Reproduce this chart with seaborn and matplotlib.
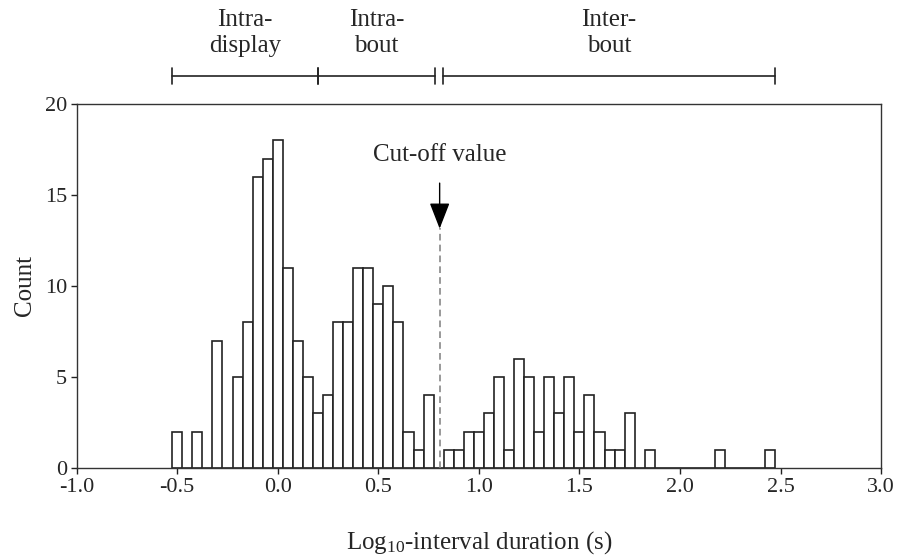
import numpy as np
import matplotlib
matplotlib.use("Agg")
import matplotlib.pyplot as plt
import seaborn as sns

# bin centres (log10 s) and counts per bin, bin width 0.05
bin_centers = np.round(np.arange(-0.5, 2.451, 0.05), 2)
counts = [2, 0, 2, 0, 7, 0, 5, 8, 16, 17,
          18, 11, 7, 5, 3, 4, 8, 8, 11, 11,
          9, 10, 8, 2, 1, 4, 0, 1, 1, 2,
          2, 3, 5, 1, 6, 5, 2, 5, 3, 5,
          2, 4, 2, 1, 1, 3, 0, 1, 0, 0,
          0, 0, 0, 0, 1, 0, 0, 0, 0, 1]

cutoff = 0.805
bout_labels = ["Intra-\ndisplay", "Intra-\nbout", "Inter-\nbout"]
bout_ranges = [(-0.525, 0.2), (0.2, 0.78), (0.82, 2.475)]
x_ticks = [-1.0, -0.5, 0.0, 0.5, 1.0, 1.5, 2.0, 2.5, 3.0]
y_ticks = [0, 5, 10, 15, 20]

sns.set_style("ticks")
plt.rcParams["font.family"] = ["Liberation Serif", "DejaVu Serif"]
plt.rcParams["mathtext.fontset"] = "custom"
plt.rcParams["mathtext.rm"] = "Liberation Serif"
plt.rcParams["mathtext.it"] = "Liberation Serif:italic"
plt.rcParams["axes.unicode_minus"] = False

fig = plt.figure(figsize=(9.03, 5.59), dpi=100)
ax = fig.add_axes([0.0849, 0.1628, 0.8908, 0.6512])

sns.histplot(x=bin_centers, weights=counts, binwidth=0.05,
             binrange=(-0.525, 2.475), color="white", edgecolor="#222222",
             linewidth=1.2, alpha=1, ax=ax)

ax.set_xlim(-1.0, 3.0)
ax.set_ylim(0, 20)
ax.set_xticks(x_ticks)
ax.set_xticklabels([f"{t:.1f}" for t in x_ticks])
ax.set_yticks(y_ticks)
ax.tick_params(axis="both", labelsize=16, direction="out", length=4,
               width=1, color="#222222", top=False, right=False, pad=3)
for s in ax.spines.values():
    s.set_visible(True)
    s.set_linewidth(1.0)
    s.set_color("#333333")

ax.set_xlabel("Log$_{10}$-interval duration (s)", fontsize=18, labelpad=23)
ax.set_ylabel("Count", fontsize=18, labelpad=6)

# cut-off line and arrow
ax.plot([cutoff, cutoff], [0, 13.2], ls=(0, (4, 2.5)), color="#888888", lw=1.2)
ax.annotate("Cut-off value", xy=(cutoff, 13.15), xytext=(cutoff, 17.2),
            ha="center", va="center", fontsize=18,
            arrowprops=dict(arrowstyle="-|>,head_length=0.9,head_width=0.35",
                            color="black", lw=1.0, shrinkA=10, shrinkB=0))

# bout classes above the plot
by = 21.55
for lab, (x0, x1) in zip(bout_labels, bout_ranges):
    ax.plot([x0, x1], [by, by], color="#222222", lw=1.2, clip_on=False)
    for xe in (x0, x1):
        ax.plot([xe, xe], [by - 0.45, by + 0.45], color="#222222", lw=1.2,
                clip_on=False)
    ax.text((x0 + x1) / 2, 23.9, lab, ha="center", va="center", fontsize=18,
            linespacing=1.25)

fig.savefig("out.png", dpi=100)
